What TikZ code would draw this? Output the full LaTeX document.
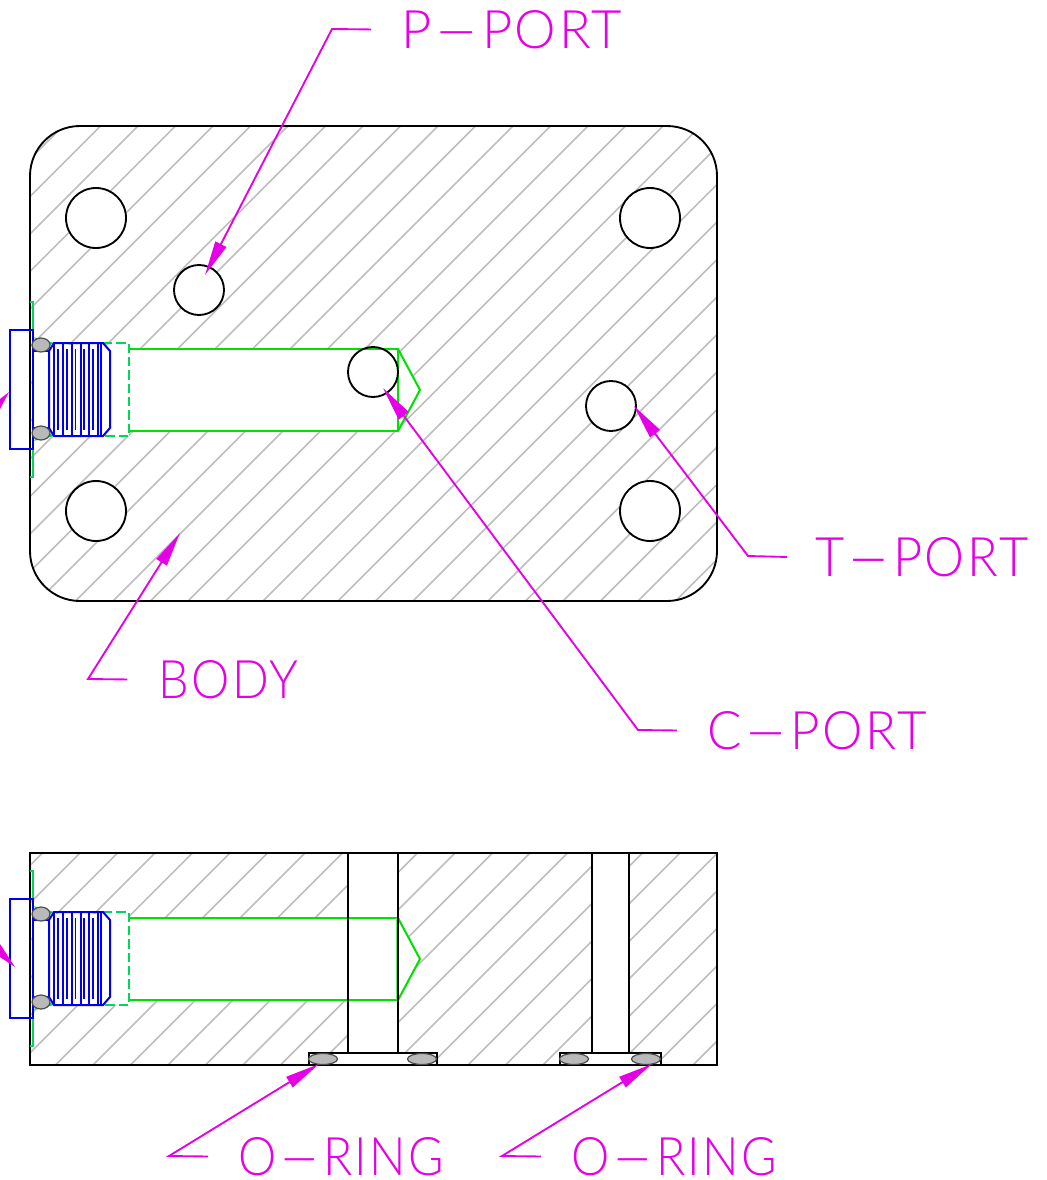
\documentclass[tikz,border=0pt]{standalone}
\usepackage{fontspec}
\usepackage{graphicx}
\setmainfont{Lato}[UprightFont=* Light,LetterSpace=5]
\usetikzlibrary{arrows.meta}
\definecolor{cadgreen}{RGB}{0,225,0}
\definecolor{cadmint}{RGB}{0,215,90}
\definecolor{cadblue}{RGB}{0,0,235}
\definecolor{cadmag}{RGB}{230,0,230}
\definecolor{cadhatch}{RGB}{190,190,190}
\definecolor{cadoring}{RGB}{185,185,185}
\tikzset{
  x=0.75pt,y=-0.75pt,
  outline/.style={draw=black,line width=1.4pt},
  hatchline/.style={draw=cadhatch,line width=1.3pt},
  bore/.style={draw=cadgreen,line width=1.5pt},
  minty/.style={draw=cadmint,line width=1.4pt},
  thread/.style={draw=cadblue,line width=1.5pt},
  oring/.style={draw=black!70,fill=cadoring,line width=0.9pt},
  leader/.style={draw=cadmag,line width=1.4pt,-{Triangle[length=26pt,width=9pt]}},
  tag/.style={inner sep=0pt,text=cadmag}
}
\newcommand{\hatchfill}[1]{%
  \foreach \k in {0,...,62}{\draw[hatchline] ({#1+37.5*\k},0) -- ({#1+37.5*\k-1180},1180);}}
\newcommand{\wdash}{\scalebox{2.6}[1]{-}}
% plug assembly, #1 = vertical offset
\newcommand{\plugset}[1]{%
\begin{scope}[yshift={-0.75pt*#1}]
  \fill[white] (33,345) rectangle (129,436);
  \draw[minty] (30,302) -- (33,302) -- (33,330);
  \draw[minty] (30,477) -- (33,477) -- (33,449);
  \fill[cadmint] (33,337) -- (54,343) -- (46,347) -- cycle;
  \fill[cadmint] (33,441) -- (54,436) -- (46,431) -- cycle;
  \draw[minty,dashed,dash pattern=on 7pt off 3pt] (103,343) -- (129,343) -- (129,436) -- (103,436);
  \draw[thread] (10,330) rectangle (33,449);
  \draw[thread] (33,351) -- (49,351) (33,428) -- (49,428);
  \draw[thread] (49,351) -- (54,343) -- (103,343) -- (110,351) -- (110,428) -- (103,436) -- (54,436) -- (49,428) -- cycle;
  \foreach \xx in {54,62.6,71.5,80.5,89,98,101}{\draw[thread] (\xx,343) -- (\xx,436);}
  \foreach \xx in {57.7,66.7,75.5,84,93}{\draw[thread,line width=1.2pt] (\xx,349) -- (\xx,430);}
  \draw[oring] (41,345) ellipse (9 and 7);
  \draw[oring] (41,433) ellipse (9 and 7);
\end{scope}}
\newcommand{\cadlabel}[6]{\node[tag,anchor=north west] (#1) at (#2,#3) {\resizebox{\dimexpr #4pt*3/4\relax}{\dimexpr #5pt*3/4\relax}{#6}};}
\begin{document}
\begin{tikzpicture}
\useasboundingbox (0,0) rectangle (1046,1180);
% ---------- top view
\begin{scope}
  \clip[rounded corners=37.5pt] (30,126) rectangle (717,601);
  \hatchfill{39}
\end{scope}
\fill[white] (129,349) rectangle (398,431);
\fill[white] (398,349) -- (420,390) -- (398,431) -- cycle;
\draw[outline,rounded corners=37.5pt] (30,126) rectangle (717,601);
\draw[bore] (110,349) -- (398,349) -- (398,431) -- (110,431);
\draw[bore] (398,349) -- (420,390) -- (398,431);
\draw[outline,fill=white] (96,218) circle (30);
\draw[outline,fill=white] (650,218) circle (30);
\draw[outline,fill=white] (96,511) circle (30);
\draw[outline,fill=white] (650,511) circle (30);
\draw[outline,fill=white] (199,290) circle (25);
\draw[outline] (373,372) circle (25);
\draw[outline,fill=white] (611,406) circle (25);
\plugset{0}
% ---------- section view
\begin{scope}
  \clip (30,853) rectangle (717,1065);
  \hatchfill{33}
\end{scope}
\fill[white] (129,918) rectangle (398,1000);
\fill[white] (398,918) -- (420,959) -- (398,1000) -- cycle;
\fill[white] (348,853) rectangle (398,1053);
\fill[white] (592,853) rectangle (629,1053);
\fill[white] (309,1053) rectangle (437,1065);
\fill[white] (560,1053) rectangle (661,1065);
\draw[bore] (110,918) -- (398,918) -- (420,959) -- (398,1000) -- (110,1000);
\draw[draw=cadgreen!60,line width=1pt] (397,918) -- (397,1000);
\draw[outline] (30,853) rectangle (717,1065);
\draw[outline] (348,853) -- (348,1053) (398,853) -- (398,1053);
\draw[outline] (592,853) -- (592,1053) (629,853) -- (629,1053);
\draw[outline] (309,1065) -- (309,1053) -- (437,1053) -- (437,1065);
\draw[outline] (560,1065) -- (560,1053) -- (661,1053) -- (661,1065);
\draw[oring] (323,1059) ellipse (14.5 and 5.5);
\draw[oring] (422,1059) ellipse (14.5 and 5.5);
\draw[oring] (574,1059) ellipse (14.5 and 5.5);
\draw[oring] (646,1059) ellipse (14.5 and 5.5);
\plugset{569}
% ---------- clipped arrows at the left edge
\fill[cadmag] (0,399) -- (9,392) -- (0,409) -- cycle;
\fill[cadmag] (0,944) -- (15,967) -- (0,957) -- cycle;
% ---------- labels
\cadlabel{pport}{401}{10}{221}{38}{P\wdash PORT}
\cadlabel{tport}{815}{537}{213}{39}{T\wdash PORT}
\cadlabel{body}{158}{660}{140}{38}{BODY}
\cadlabel{cport}{707}{711}{220}{38}{C\wdash PORT}
\cadlabel{oringa}{238}{1137}{206}{38}{O\wdash RING}
\cadlabel{oringb}{571}{1137}{206}{38}{O\wdash RING}
% ---------- leaders
\coordinate (ptip) at (205,275);
\coordinate (ctip) at (383,388);
\coordinate (ttip) at (634,406);
\coordinate (btip) at (180,533);
\coordinate (oatip) at (319,1064);
\coordinate (obtip) at (652,1064);
\draw[leader] ([xshift=-22.5pt]pport.west) -- (332,29) -- (ptip);
\draw[leader] ([xshift=-22.5pt]cport.west) -- (638,730) -- (ctip);
\draw[leader] ([xshift=-21pt]tport.west) -- (748,556) -- (ttip);
\draw[leader] ([xshift=-23pt]body.west) -- (88,679) -- (btip);
\draw[leader] ([xshift=-22.5pt]oringa.west) -- (169,1156) -- (oatip);
\draw[leader] ([xshift=-22.5pt]oringb.west) -- (502,1156) -- (obtip);
\end{tikzpicture}
\end{document}
